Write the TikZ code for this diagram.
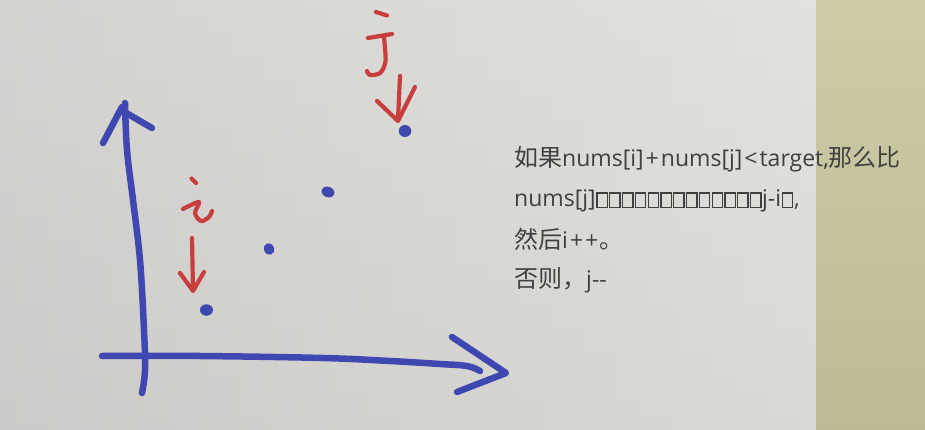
\documentclass[tikz,border=0pt]{standalone}
\usepackage{fontspec}
\newfontfamily\cjk{Noto Sans CJK SC}
\newfontfamily\lat{Open Sans}
\newcommand\tofu{{\setlength\fboxsep{0pt}\setlength\fboxrule{1.3pt}\kern0.6pt\fbox{\rule{0pt}{13.2pt}\rule{9.0pt}{0pt}}\kern0.6pt}}
\tikzset{
  bluepen/.style={draw={rgb,255:red,62;green,72;blue,176}, line width=6.5pt, line cap=round, line join=round},
  redpen/.style={draw={rgb,255:red,200;green,62;blue,60}, line width=4.2pt, line cap=round, line join=round},
  bluedot/.style={ellipse, fill={rgb,255:red,62;green,72;blue,176}, inner sep=0pt},
  note/.style={anchor=base west, inner sep=0pt, text={rgb,255:red,64;green,64;blue,64}, font=\cjk\fontsize{24}{24}\selectfont}
}
\usetikzlibrary{shapes.geometric}
\newcommand\lt[1]{{\lat\fontsize{23}{23}\selectfont #1}}
\begin{document}
\begin{tikzpicture}[x=1pt,y=-1pt]
\useasboundingbox (0,0) rectangle (925,430);
% background
\shade[top color={rgb,255:red,228;green,226;blue,221}, bottom color={rgb,255:red,208;green,207;blue,204}] (0,0) rectangle (816,430);
\shade[left color={rgb,255:red,200;green,200;blue,199}, right color={rgb,255:red,228;green,226;blue,221}, opacity=0.55] (0,0) rectangle (816,430);
\shade[top color={rgb,255:red,206;green,203;blue,166}, bottom color={rgb,255:red,189;green,186;blue,150}] (816,0) rectangle (925,430);
% axes
\draw[bluepen] plot[smooth, tension=0.6] coordinates {(142,393) (145,370) (144,330) (140,260) (133,200) (127,150) (125,103)};
\draw[bluepen] (103,143) -- (122,107);
\draw[bluepen] (121,110) -- (152,128);
\draw[bluepen] plot[smooth, tension=0.6] coordinates {(102,356) (200,356) (323,358) (390,361) (440,364) (467,366) (480,371)};
\draw[bluepen] (452,337) -- (506,373) -- (457,392);
% dots
\node[bluedot, minimum width=13pt, minimum height=11.5pt] (p1) at (206.5,310) {};
\node[bluedot, minimum width=10pt, minimum height=12pt, rotate=20] (p2) at (269,249) {};
\node[bluedot, minimum width=13pt, minimum height=10.5pt, rotate=-20] (p3) at (328,192) {};
\node[bluedot, minimum width=12.5pt, minimum height=12pt] (p4) at (405,131) {};
% red i
\draw[redpen] (191.5,178.5) -- (196,183);
\draw[redpen] plot[smooth, tension=0.55] coordinates {(183,209) (199,202) (195,213) (201,221) (209,217) (212,211)};
\draw[redpen] (192,238) -- (193,290);
\draw[redpen] (180,273) -- (193,291) -- (204,272);
% red J
\draw[redpen] (376,12) -- (387,15.5);
\draw[redpen] (368,38) -- (392,34);
\draw[redpen] plot[smooth, tension=0.6] coordinates {(384,37) (385.5,55) (385,64) (380,73) (370,75) (367,71)};
\draw[redpen] plot[smooth, tension=0.6] coordinates {(400,76) (399,98) (398,120)};
\draw[redpen] (377,101) -- (398,121) -- (415,87);
% text
\node[note] (t1) at (514,167) {如果\lt{nums[i]\kern2pt+\kern2pt nums[j]\kern2pt<\kern2pt target,}那么比};
\node[note] (t2) at (514,207) {\lt{nums[j]}\tofu\tofu\tofu\tofu\tofu\tofu\tofu\tofu\tofu\tofu\tofu\tofu\tofu\lt{j-i}\tofu\lt{,}};
\node[note] (t3) at (514,248) {然后\lt{i\kern2pt+\kern2pt+\kern1pt}。};
\node[note] (t4) at (514,287) {否则，\lt{j--}};
\end{tikzpicture}
\end{document}
